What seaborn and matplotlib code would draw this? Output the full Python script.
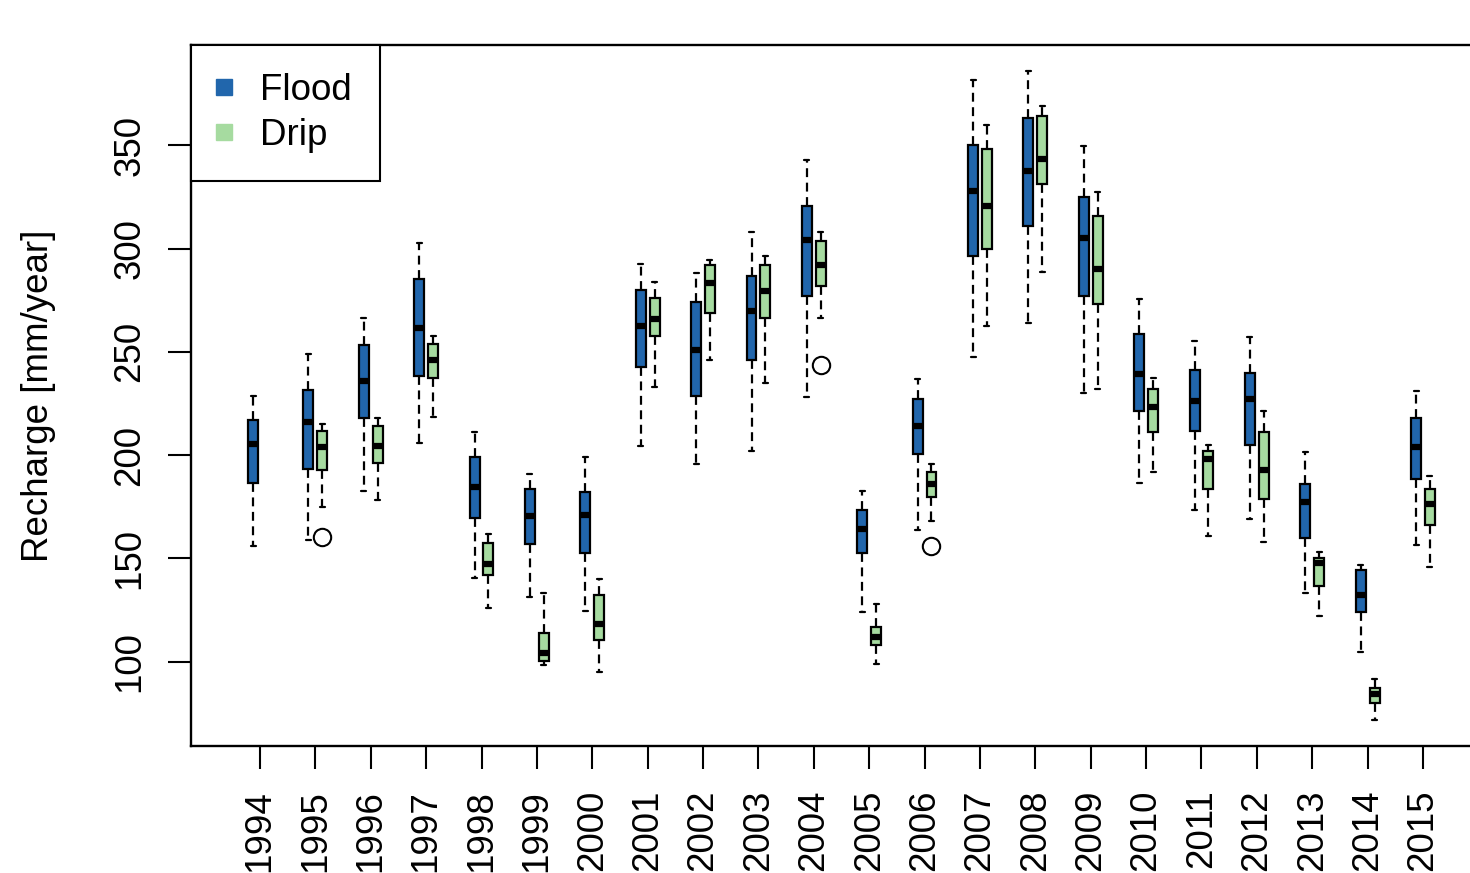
import matplotlib
matplotlib.use("Agg")
import matplotlib.pyplot as plt
import numpy as np
import pandas as pd
import seaborn as sns
from matplotlib.lines import Line2D

# ---------------- data ----------------
years = [str(y) for y in range(1994, 2016)]
types = ["Flood", "Drip"]
colors = {"Flood": "#2166AC", "Drip": "#A6DBA0"}

flood_lo  = [156.0, 159.0, 182.5, 206.1, 140.5, 131.2, 124.4, 204.5, 195.7, 201.9, 228.0,
             123.9, 163.8, 247.4, 263.9, 230.0, 186.6, 173.2, 168.9, 133.1, 104.5, 156.5]
flood_q1  = [186.4, 193.5, 217.9, 238.4, 169.6, 157.0, 152.7, 242.6, 228.5, 245.8, 277.0,
             152.7, 200.6, 296.2, 310.8, 276.8, 221.3, 211.9, 204.8, 159.9, 124.1, 188.2]
flood_med = [205.3, 215.8, 235.8, 261.3, 184.8, 170.6, 171.1, 262.5, 250.7, 269.9, 304.3,
             164.3, 213.9, 327.9, 337.5, 305.1, 239.4, 226.1, 227.1, 177.2, 132.5, 203.8]
flood_q3  = [216.8, 231.3, 253.3, 285.4, 199.0, 183.7, 181.9, 280.1, 274.1, 286.5, 320.8,
             173.6, 227.3, 350.3, 363.4, 325.0, 258.8, 241.0, 239.7, 186.1, 144.4, 217.9]
flood_hi  = [228.5, 248.7, 266.5, 302.7, 211.4, 190.9, 199.0, 292.7, 288.1, 308.0, 342.7,
             182.5, 237.0, 381.5, 385.9, 349.5, 275.7, 255.2, 257.1, 201.7, 147.0, 231.0]

drip_lo  = [None, 174.8, 178.3, 218.4, 125.8, 98.5, 94.8, 232.9, 245.8, 234.8, 266.3,
            99.0, 168.3, 262.3, 288.6, 232.1, 191.8, 160.9, 157.8, 122.1, 71.8, 146.0]
drip_q1  = [None, 192.9, 196.2, 237.5, 142.0, 100.2, 110.5, 257.5, 269.0, 266.2, 281.7,
            108.2, 179.6, 299.8, 331.0, 273.0, 211.3, 183.8, 178.8, 136.7, 80.0, 166.2]
drip_med = [None, 203.7, 204.2, 245.8, 147.3, 104.4, 118.3, 265.8, 283.3, 279.6, 292.0,
            111.8, 186.1, 320.6, 343.1, 290.2, 223.5, 197.9, 193.0, 147.6, 84.6, 176.4]
drip_q3  = [None, 211.9, 214.0, 253.9, 157.3, 114.1, 132.3, 276.2, 292.2, 291.9, 303.5,
            117.0, 191.7, 348.4, 364.2, 315.9, 231.9, 202.2, 211.1, 150.0, 87.2, 183.7]
drip_hi  = [None, 215.2, 218.1, 257.5, 161.8, 133.1, 140.0, 283.8, 294.3, 296.2, 308.0,
            128.0, 195.7, 359.7, 368.9, 327.2, 237.3, 205.1, 221.3, 153.0, 91.6, 190.1]

outlier_years  = ["1995", "2004", "2006"]
outlier_types  = ["Drip", "Drip", "Drip"]
outlier_values = [160.6, 243.4, 156.2]

# ---------------- build long table ----------------
stats = {
    "Flood": [flood_lo, flood_q1, flood_med, flood_q3, flood_hi],
    "Drip": [drip_lo, drip_q1, drip_med, drip_q3, drip_hi],
}
rows = []
for i, yr in enumerate(years):
    for t in types:
        if stats[t][0][i] is None:
            continue
        for s in stats[t]:
            rows.append((yr, t, s[i]))
df = pd.DataFrame(rows, columns=["Year", "Type", "Recharge"])
out_df = pd.DataFrame({"Year": outlier_years, "Type": outlier_types,
                       "Recharge": outlier_values})

# ---------------- figure ----------------
sns.set_theme(style="ticks")
plt.rcParams["font.family"] = ["Liberation Sans", "DejaVu Sans"]
plt.rcParams.update({"text.color": "black", "axes.labelcolor": "black",
                     "xtick.color": "black", "ytick.color": "black",
                     "axes.edgecolor": "black"})

FS = 26.5
fig = plt.figure(figsize=(14.7, 8.73), dpi=100)
fig.patch.set_facecolor("white")
ax = fig.add_axes([191 / 1470, 1 - 746 / 873, 1301 / 1470, 701 / 873])
ax.set_facecolor("white")

sns.boxplot(
    data=df, x="Year", y="Recharge", hue="Type", order=years, hue_order=types,
    palette=colors, saturation=1, width=0.5, gap=0.28, whis=(0, 100),
    linecolor="black", linewidth=1.6, showfliers=False, legend=False, ax=ax,
    medianprops=dict(linewidth=4.5, color="black", solid_capstyle="butt"),
    whiskerprops=dict(linestyle=(0, (4, 2.5)), linewidth=1.6, color="black"),
    capprops=dict(linewidth=1.6, color="black"),
)

sns.pointplot(
    data=out_df, x="Year", y="Recharge", hue="Type", order=years, hue_order=types,
    palette={"Flood": "black", "Drip": "black"}, dodge=0.25, markers="o",
    linestyles="none", errorbar=None, legend=False, ax=ax,
    markersize=12.5, markeredgewidth=1.5, markerfacecolor="none",
)

ax.set_xlim(-1.246, 22.246)
ax.set_ylim(59.2, 398.5)
ax.set_yticks([100, 150, 200, 250, 300, 350])
ax.set_xticks(range(len(years)))
ax.set_xticklabels(years)
ax.set_xlabel("")
ax.set_ylabel("Recharge [mm/year]", fontsize=FS, color="black")
ax.yaxis.set_label_coords((56 - 191) / 1301, 0.5)
ax.grid(False)

for sp in ax.spines.values():
    sp.set_visible(True)
    sp.set_color("black")
    sp.set_linewidth(1.7)

ax.tick_params(axis="both", direction="out", length=16.5, width=1.5,
               labelsize=FS, colors="black", pad=15)
ax.tick_params(axis="x", labelrotation=90)
ax.tick_params(axis="y", labelrotation=90)
for lbl in ax.get_yticklabels():
    lbl.set_va("center")

handles = [Line2D([], [], marker="s", linestyle="none", markersize=12.2,
                  markerfacecolor=colors[t], markeredgecolor=colors[t]) for t in types]
leg = ax.legend(handles, types, loc="upper left", bbox_to_anchor=(0, 1),
                borderaxespad=0, fontsize=FS, frameon=True, fancybox=False,
                framealpha=1, edgecolor="black", borderpad=0.76, handlelength=0.3,
                handletextpad=0.82, labelspacing=0.27)
leg.get_frame().set_linewidth(1.5)
for txt in leg.get_texts():
    txt.set_color("black")

fig.savefig("out.png", dpi=100, facecolor="white")
